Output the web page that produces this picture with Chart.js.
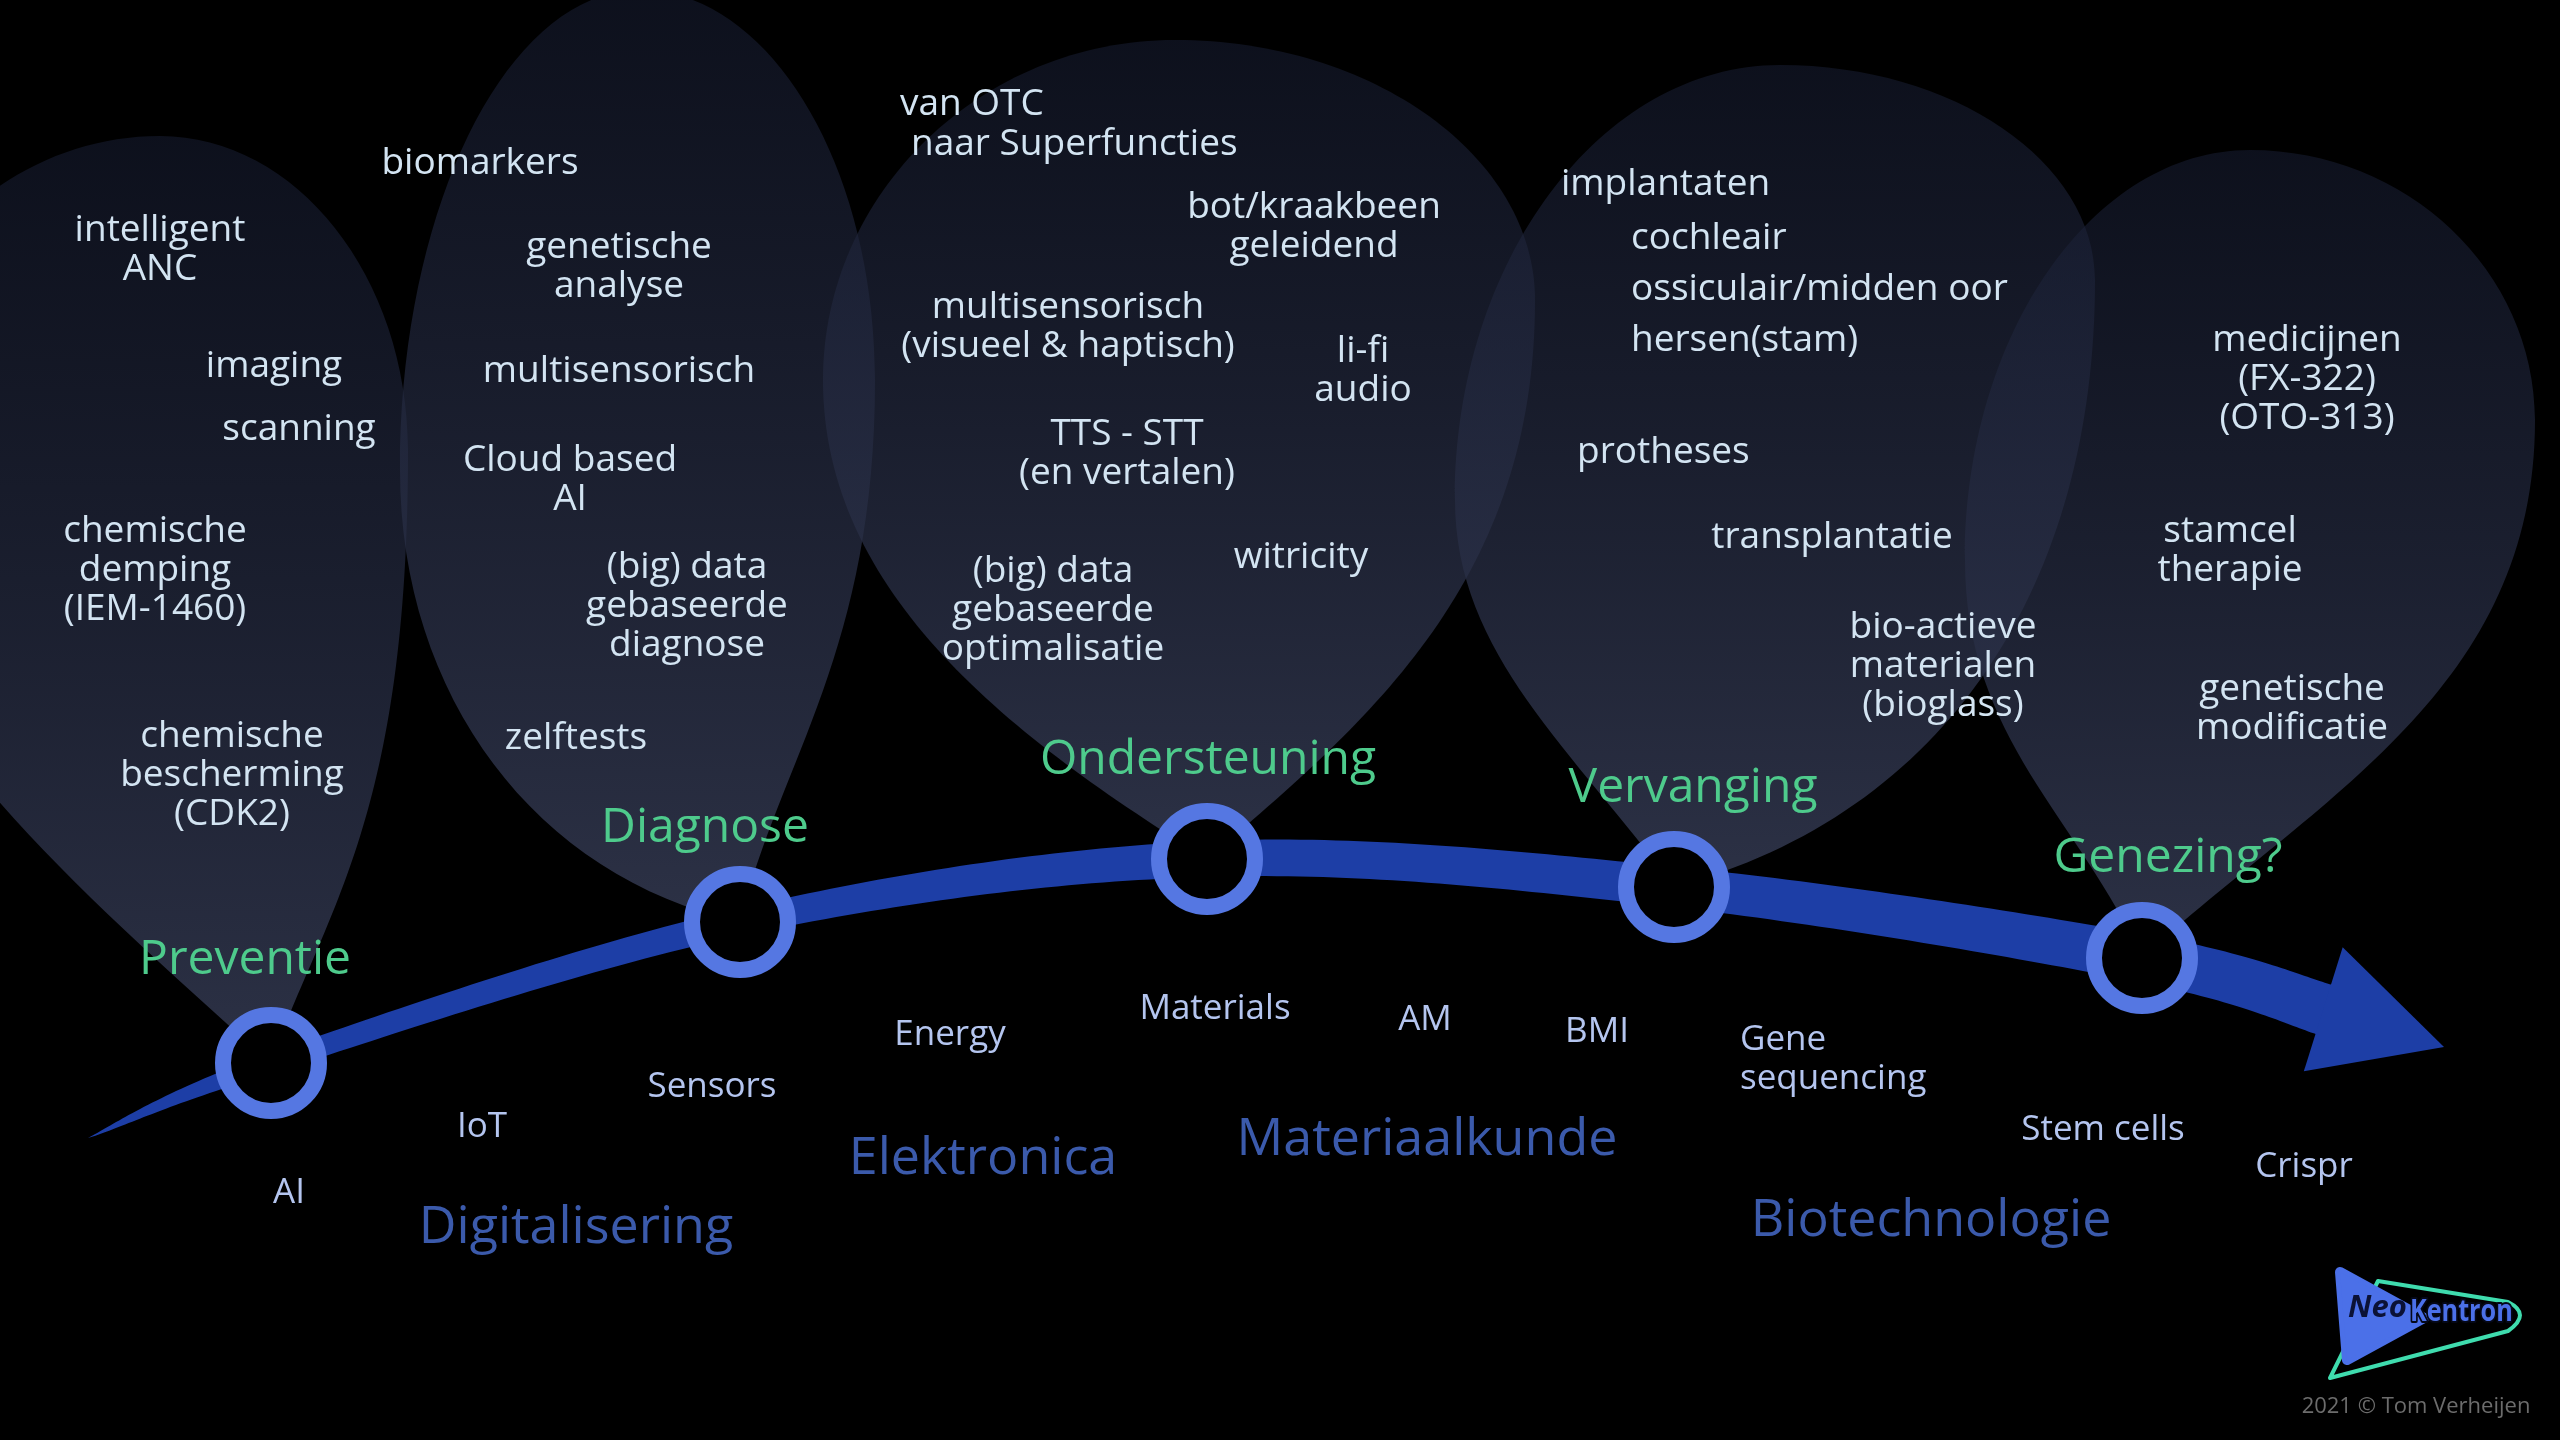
<!DOCTYPE html>
<html>
<head>
<meta charset="utf-8">
<title>Van preventie naar genezing</title>
<script src="https://cdn.jsdelivr.net/npm/chart.js@4.4.1/dist/chart.umd.min.js"></script>
<style>
  html, body { margin: 0; padding: 0; background: #000; }
  #wrap { width: 2560px; height: 1440px; }
</style>
</head>
<body>
<div id="wrap"><canvas id="roadmap" width="2560" height="1440"></canvas></div>
<script>
// phases on the arrow, in picture units (2560 x 1440)
const phases = ['Preventie', 'Diagnose', 'Ondersteuning', 'Vervanging', 'Genezing?'];
const phaseX = [271, 740, 1207, 1674, 2142];
const phaseY = [1063, 922, 859, 887, 958];
const phaseLabelX = [245, 705, 1208, 1693, 2168];
const phaseLabelY = [960, 828, 760, 788, 858];

// what sits in each leaf: [text, x, y, align]
const preventieItems = [
  ['intelligent\nANC', 160, 230],
  ['imaging', 274, 366],
  ['scanning', 299, 429],
  ['chemische\ndemping\n(IEM-1460)', 155, 531],
  ['chemische\nbescherming\n(CDK2)', 232, 736]
];
const diagnoseItems = [
  ['biomarkers', 480, 163],
  ['genetische\nanalyse', 619, 247],
  ['multisensorisch', 619, 371],
  ['Cloud based\nAI', 570, 460],
  ['(big) data\ngebaseerde\ndiagnose', 687, 567],
  ['zelftests', 576, 738]
];
const ondersteuningItems = [
  ['van OTC', 900, 104, 'left'],
  ['naar Superfuncties', 911, 144, 'left'],
  ['bot/kraakbeen\ngeleidend', 1314, 207],
  ['multisensorisch\n(visueel & haptisch)', 1068, 307],
  ['li-fi\naudio', 1363, 351],
  ['TTS - STT\n(en vertalen)', 1127, 434],
  ['witricity', 1301, 557],
  ['(big) data\ngebaseerde\noptimalisatie', 1053, 571]
];
const vervangingItems = [
  ['implantaten', 1561, 184, 'left'],
  ['cochleair', 1631, 238, 'left'],
  ['ossiculair/midden oor', 1631, 289, 'left'],
  ['hersen(stam)', 1631, 340, 'left'],
  ['protheses', 1577, 452, 'left'],
  ['transplantatie', 1832, 537],
  ['bio-actieve\nmaterialen\n(bioglass)', 1943, 627]
];
const genezingItems = [
  ['medicijnen\n(FX-322)\n(OTO-313)', 2307, 340],
  ['stamcel\ntherapie', 2230, 531],
  ['genetische\nmodificatie', 2292, 689]
];

// technologies under the arrow and the fields they belong to
const techItems = [
  ['AI', 289, 1193], ['IoT', 482, 1127], ['Sensors', 712, 1087],
  ['Energy', 950, 1035], ['Materials', 1215, 1009], ['AM', 1425, 1020],
  ['BMI', 1597, 1032], ['Gene\nsequencing', 1740, 1040, 'left'],
  ['Stem cells', 2103, 1130], ['Crispr', 2304, 1167]
];
const fieldItems = [
  ['Digitalisering', 576, 1228], ['Elektronica', 983, 1159],
  ['Materiaalkunde', 1427, 1140], ['Biotechnologie', 1931, 1221]
];

// leaf outlines: top point, widest left / right points, curve factors
const leafShapes = [
  { top: [160, 136], left: [-150, 480], right: [408, 450], fl: [0.55, 0.355, 0.355], fr: [0.4, 0.25, 0.6] },
  { top: [640, -10], left: [400, 470], right: [875, 380], fl: [0.6, 0.1, 0.5], fr: [0.3, 0.3, 0.5] },
  { top: [1175, 40], left: [823, 380], right: [1535, 300], fl: [0.5, 0.25, 0.45], fr: [0.5, 0.25, 0.5] },
  { top: [1780, 65], left: [1455, 500], right: [2095, 280], fl: [0.45, 0.35, 0.4], fr: [0.65, 0.12, 0.5] },
  { top: [2250, 150], left: [1965, 560], right: [2535, 420], fl: [0.35, 0.35, 0.45], fr: [0.45, 0.3, 0.5] }
];

const arrowTail = [88, 1138];
const arrowHeadBase = [2329, 1011];
const arrowTip = [2444, 1047];
const bandWidths = [0, 20, 27, 36, 40, 48, 52];
const headHalf = 65;

const FONT = '"Open Sans", "Noto Sans", sans-serif';

function toPx(chart, p) {
  return [chart.scales.x.getPixelForValue(p[0]), chart.scales.y.getPixelForValue(p[1])];
}

function drawLeaf(ctx, chart, shape, tipVal) {
  const tip = toPx(chart, tipVal);
  const T = toPx(chart, shape.top);
  const L = toPx(chart, shape.left);
  const R = toPx(chart, shape.right);
  const [ax, ay, by] = shape.fl;
  const [cx, cy, dy] = shape.fr;
  ctx.beginPath();
  ctx.moveTo(tip[0], tip[1]);
  ctx.bezierCurveTo(tip[0] + (L[0] - tip[0]) * ax, tip[1] + (L[1] - tip[1]) * ay,
    L[0], L[1] + (tip[1] - L[1]) * by, L[0], L[1]);
  ctx.bezierCurveTo(L[0], L[1] - (L[1] - T[1]) * 0.55, T[0] - (T[0] - L[0]) * 0.55, T[1], T[0], T[1]);
  ctx.bezierCurveTo(T[0] + (R[0] - T[0]) * 0.55, T[1], R[0], R[1] - (R[1] - T[1]) * 0.55, R[0], R[1]);
  ctx.bezierCurveTo(R[0], R[1] + (tip[1] - R[1]) * dy,
    tip[0] + (R[0] - tip[0]) * cx, tip[1] + (R[1] - tip[1]) * cy, tip[0], tip[1]);
  ctx.closePath();
  const g = ctx.createLinearGradient(0, T[1], 0, tip[1]);
  g.addColorStop(0, 'rgba(24,30,52,0.55)');
  g.addColorStop(1, 'rgba(52,58,82,0.85)');
  ctx.fillStyle = g;
  ctx.fill();
}

function spline(pts, steps) {
  const out = [];
  for (let i = 0; i < pts.length - 1; i++) {
    const p0 = pts[Math.max(i - 1, 0)], p1 = pts[i], p2 = pts[i + 1], p3 = pts[Math.min(i + 2, pts.length - 1)];
    for (let s = 0; s < steps; s++) {
      const t = s / steps, t2 = t * t, t3 = t2 * t;
      const f = k => 0.5 * ((2 * p1[k]) + (-p0[k] + p2[k]) * t + (2 * p0[k] - 5 * p1[k] + 4 * p2[k] - p3[k]) * t2 + (-p0[k] + 3 * p1[k] - 3 * p2[k] + p3[k]) * t3);
      out.push([f(0), f(1), p1[2] + (p2[2] - p1[2]) * t]);
    }
  }
  const last = pts[pts.length - 1];
  out.push([last[0], last[1], last[2]]);
  return out;
}

function drawArrow(ctx, chart) {
  const knots = [arrowTail].concat(phaseX.map((x, i) => [x, phaseY[i]]), [arrowHeadBase])
    .map((p, i) => toPx(chart, p).concat([bandWidths[i]]));
  const s = spline(knots, 40);
  const up = [], down = [];
  for (let i = 0; i < s.length; i++) {
    const a = s[Math.max(i - 1, 0)], b = s[Math.min(i + 1, s.length - 1)];
    let tx = b[0] - a[0], ty = b[1] - a[1];
    const len = Math.hypot(tx, ty) || 1;
    const nx = -ty / len, ny = tx / len;
    up.push([s[i][0] + nx * s[i][2] / 2, s[i][1] + ny * s[i][2] / 2]);
    down.push([s[i][0] - nx * s[i][2] / 2, s[i][1] - ny * s[i][2] / 2]);
  }
  ctx.beginPath();
  up.forEach((p, i) => i ? ctx.lineTo(p[0], p[1]) : ctx.moveTo(p[0], p[1]));
  down.reverse().forEach(p => ctx.lineTo(p[0], p[1]));
  ctx.closePath();
  ctx.fillStyle = '#1d3ea6';
  ctx.fill();

  const base = toPx(chart, arrowHeadBase), tip = toPx(chart, arrowTip);
  const dx = tip[0] - base[0], dy = tip[1] - base[1], l = Math.hypot(dx, dy);
  const nx = -dy / l, ny = dx / l;
  ctx.beginPath();
  ctx.moveTo(base[0] - dx * 0.05 + nx * headHalf, base[1] - dy * 0.05 + ny * headHalf);
  ctx.lineTo(tip[0], tip[1]);
  ctx.lineTo(base[0] - dx * 0.05 - nx * headHalf, base[1] - dy * 0.05 - ny * headHalf);
  ctx.closePath();
  ctx.fill();
}

const backdrop = {
  id: 'backdrop',
  beforeDatasetsDraw(chart) {
    const ctx = chart.ctx;
    ctx.save();
    drawArrow(ctx, chart);
    leafShapes.forEach((shape, i) => drawLeaf(ctx, chart, shape, [phaseX[i], phaseY[i]]));
    ctx.restore();
  }
};

function writeText(ctx, chart, item, size, color, lineH) {
  const [text, x, y, align] = item;
  const p = toPx(chart, [x, y]);
  ctx.font = size + 'px ' + FONT;
  ctx.fillStyle = color;
  ctx.textAlign = align || 'center';
  ctx.textBaseline = 'middle';
  text.split('\n').forEach((line, k) => ctx.fillText(line, p[0], p[1] + k * lineH));
}

function drawLogo(ctx, chart) {
  const P = v => toPx(chart, v);
  ctx.save();
  ctx.lineJoin = 'round';
  // teal outline
  ctx.beginPath();
  let p = P([2330, 1378]); ctx.moveTo(p[0], p[1]);
  p = P([2378, 1281]); ctx.lineTo(p[0], p[1]);
  p = P([2508, 1302]); ctx.lineTo(p[0], p[1]);
  let c = P([2532, 1314]); p = P([2508, 1331]); ctx.quadraticCurveTo(c[0], c[1], p[0], p[1]);
  ctx.closePath();
  ctx.strokeStyle = '#3fdcae';
  ctx.lineWidth = 4;
  ctx.stroke();
  // blue play shape
  ctx.beginPath();
  p = P([2340, 1272]); ctx.moveTo(p[0], p[1]);
  p = P([2424, 1318]); ctx.lineTo(p[0], p[1]);
  p = P([2347, 1360]); ctx.lineTo(p[0], p[1]);
  ctx.closePath();
  ctx.fillStyle = ctx.strokeStyle = '#4b70e8';
  ctx.lineWidth = 10;
  ctx.stroke();
  ctx.fill();
  ctx.textBaseline = 'middle';
  ctx.textAlign = 'left';
  ctx.font = 'italic bold 31px ' + FONT;
  ctx.fillStyle = '#0b1236';
  p = P([2348, 1308]); ctx.fillText('Neo', p[0], p[1]);
  // narrow lettering for the second half of the name
  p = P([2410, 1312]);
  ctx.translate(p[0], p[1]);
  ctx.scale(0.84, 1);
  ctx.font = 'bold 30px ' + FONT;
  ctx.lineWidth = 4;
  ctx.strokeStyle = '#050818';
  ctx.strokeText('Kentron', 0, 0);
  ctx.fillStyle = '#4b70e8';
  ctx.fillText('Kentron', 0, 0);
  ctx.restore();
}

const labels = {
  id: 'labels',
  afterDatasetsDraw(chart) {
    const ctx = chart.ctx;
    ctx.save();
    [preventieItems, diagnoseItems, ondersteuningItems, vervangingItems, genezingItems]
      .forEach(group => group.forEach(item => writeText(ctx, chart, item, 37, '#d3e4f2', 39)));
    phases.forEach((name, i) => writeText(ctx, chart, [name, phaseLabelX[i], phaseLabelY[i]], 48, '#4ecb8c', 50));
    techItems.forEach(item => writeText(ctx, chart, item, 35, '#b4c5ef', 39));
    fieldItems.forEach(item => writeText(ctx, chart, item, 52, '#3b5aab', 54));
    writeText(ctx, chart, ['2021 \u00A9 Tom Verheijen', 2416, 1407], 22, '#6c6c6c', 24);
    drawLogo(ctx, chart);
    ctx.restore();
  }
};

new Chart(document.getElementById('roadmap'), {
  type: 'scatter',
  data: {
    datasets: [{
      label: 'fasen',
      data: phaseX.map((x, i) => ({ x: x, y: phaseY[i] })),
      pointRadius: 48,
      pointHoverRadius: 48,
      pointBorderWidth: 16,
      pointHoverBorderWidth: 16,
      pointBackgroundColor: '#000',
      pointBorderColor: '#5577e2',
      clip: false
    }]
  },
  options: {
    responsive: false,
    animation: false,
    devicePixelRatio: 1,
    events: [],
    layout: { padding: 0, autoPadding: false },
    scales: {
      x: { type: 'linear', min: 0, max: 2560, display: false },
      y: { type: 'linear', min: 0, max: 1440, reverse: true, display: false }
    },
    plugins: { legend: { display: false }, tooltip: { enabled: false } }
  },
  plugins: [backdrop, labels]
});
</script>
</body>
</html>
